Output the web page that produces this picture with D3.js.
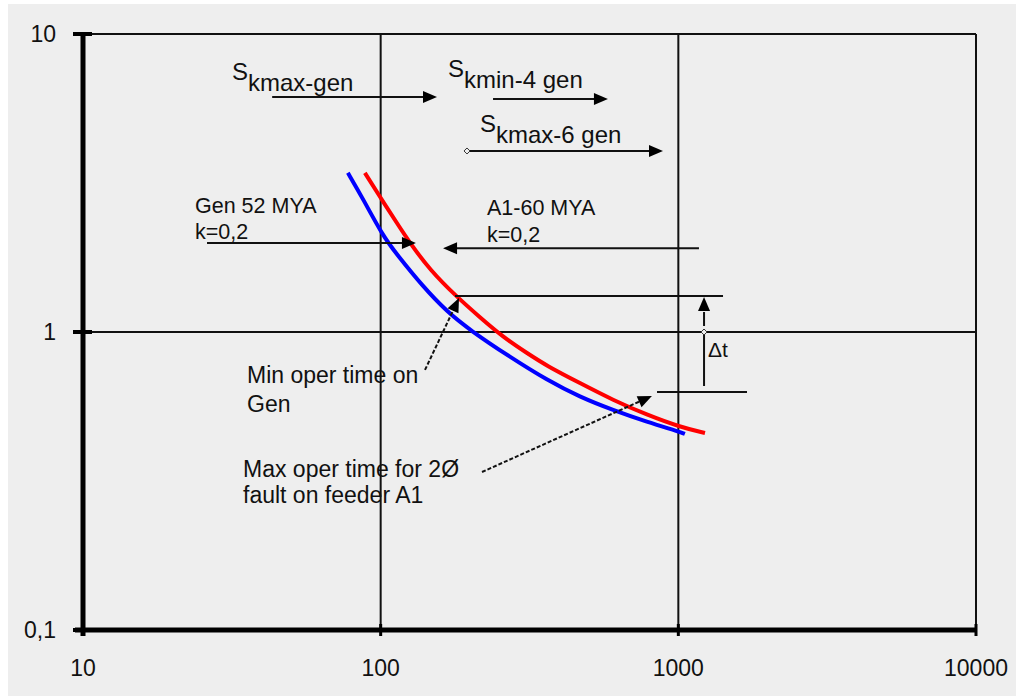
<!DOCTYPE html>
<html><head><meta charset="utf-8">
<script src="https://cdn.jsdelivr.net/npm/d3@7"></script>
<style>html,body{margin:0;padding:0;background:#fff;}svg{display:block;}</style>
</head><body>
<svg id="c" width="1024" height="698"></svg>
<script>
// ---- data ----
const xTicks = [10, 100, 1000, 10000];
const xTickLabels = ["10", "100", "1000", "10000"];
const yTicks = [0.1, 1, 10];
const yTickLabels = ["0,1", "1", "10"];

// Generator relay curve (blue)
const genX = [77.6, 87.2, 101.8, 113.4, 138.7, 167, 199.5, 272, 362, 467, 603, 785, 1013, 1052];
const genY = [3.42, 2.80, 2.10, 1.82, 1.42, 1.17, 1.015, 0.824, 0.69, 0.605, 0.547, 0.499, 0.462, 0.455];
// Feeder A1 relay curve (red)
const feedX = [88.5, 99.5, 113.4, 125.4, 146.4, 180.4, 215.6, 257.5, 310, 362, 467, 603, 785, 1013, 1229];
const feedY = [3.42, 2.84, 2.32, 1.99, 1.615, 1.31, 1.12, 0.962, 0.85, 0.769, 0.674, 0.591, 0.527, 0.48, 0.458];

// arrows in data units: [x1, y1, x2, y2]  (arrowhead at x2,y2)
const arrowSkmaxGen = [43.2, 6.15, 154.6, 6.15];
const arrowSkmin4 = [238.5, 6.05, 580, 6.05];
const arrowSkmax6 = [195, 4.05, 888, 4.05];
const arrowGen = [26.1, 1.99, 131.4, 1.99];
const arrowA1 = [1173, 1.91, 162, 1.91];
const lineMin = [177.8, 1.32, 1413, 1.32];
const lineMax = [848, 0.629, 1701, 0.629];
const arrowDt = [1220, 0.659, 1220, 1.31];
const arrowMinOper = [140.9, 0.746, 183.3, 1.30];
const arrowMaxOper = [219, 0.339, 815, 0.61];

// ---- chart ----
const svg = d3.select("#c");
svg.append("rect").attr("x", 8).attr("y", 4).attr("width", 1008).attr("height", 692).attr("fill", "#eeeeee");

const x = d3.scaleLog().domain([10, 10000]).range([83, 976]);
const y = d3.scaleLog().domain([0.1, 10]).range([630, 34]);
const FONT = "'Liberation Sans', Arial, sans-serif";

// grid lines
const g = svg.append("g");
g.selectAll(".vg").data(xTicks.slice(1)).enter().append("line")
  .attr("x1", d => x(d)).attr("x2", d => x(d)).attr("y1", y(10)).attr("y2", y(0.1))
  .attr("stroke", "#111").attr("stroke-width", 2);
g.selectAll(".hg").data(yTicks.slice(1)).enter().append("line")
  .attr("x1", x(10)).attr("x2", x(10000)).attr("y1", d => y(d)).attr("y2", d => y(d))
  .attr("stroke", "#111").attr("stroke-width", 2);

// axes (thick)
g.append("line").attr("x1", x(10)).attr("x2", x(10)).attr("y1", y(10) - 2).attr("y2", y(0.1) + 6)
  .attr("stroke", "#000").attr("stroke-width", 5);
g.append("line").attr("x1", x(10) - 8).attr("x2", x(10000)).attr("y1", y(0.1)).attr("y2", y(0.1))
  .attr("stroke", "#000").attr("stroke-width", 5);
// y ticks
g.selectAll(".yt").data(yTicks).enter().append("line")
  .attr("x1", x(10) - 10).attr("x2", x(10) + 9).attr("y1", d => y(d)).attr("y2", d => y(d))
  .attr("stroke", "#000").attr("stroke-width", 4);
// x ticks
g.selectAll(".xt").data(xTicks.slice(1)).enter().append("line")
  .attr("x1", d => x(d)).attr("x2", d => x(d)).attr("y1", y(0.1) - 6).attr("y2", y(0.1) + 6)
  .attr("stroke", "#000").attr("stroke-width", 3);

// tick labels
g.selectAll(".yl").data(yTicks).enter().append("text")
  .attr("x", 56).attr("y", d => y(d)).attr("dy", "0.36em")
  .attr("text-anchor", "end").attr("font-family", FONT).attr("font-size", 23).attr("fill", "#111")
  .text((d, i) => yTickLabels[i]);
g.selectAll(".xl").data(xTicks).enter().append("text")
  .attr("x", d => x(d)).attr("y", 676)
  .attr("text-anchor", "middle").attr("font-family", FONT).attr("font-size", 23).attr("fill", "#111")
  .text((d, i) => xTickLabels[i]);

// curves
const line = d3.line().x(d => x(d[0])).y(d => y(d[1])).curve(d3.curveBasis);
svg.append("path").datum(genX.map((v, i) => [v, genY[i]]))
  .attr("d", line).attr("fill", "none").attr("stroke", "#0000ff").attr("stroke-width", 4);
svg.append("path").datum(feedX.map((v, i) => [v, feedY[i]]))
  .attr("d", line).attr("fill", "none").attr("stroke", "#ff0000").attr("stroke-width", 4);

// arrows
function arrow(a, opts = {}) {
  const x1 = x(a[0]), y1 = y(a[1]), x2 = x(a[2]), y2 = y(a[3]);
  const ang = Math.atan2(y2 - y1, x2 - x1);
  const L = opts.head === false ? 0 : 14, Wd = 6;
  const bx = x2 - L * Math.cos(ang), by = y2 - L * Math.sin(ang);
  svg.append("line").attr("x1", x1).attr("y1", y1).attr("x2", bx + (L ? 2 * Math.cos(ang) : 0)).attr("y2", by + (L ? 2 * Math.sin(ang) : 0))
    .attr("stroke", "#111").attr("stroke-width", 2)
    .attr("stroke-dasharray", opts.dash || null);
  if (L) {
    const px = -Math.sin(ang), py = Math.cos(ang);
    svg.append("path")
      .attr("d", `M${x2},${y2}L${bx + px * Wd},${by + py * Wd}L${bx - px * Wd},${by - py * Wd}Z`)
      .attr("fill", "#000");
  }
  if (opts.diamond) {
    svg.append("path").attr("d", `M${x1 - 3},${y1}L${x1},${y1 - 3}L${x1 + 3},${y1}L${x1},${y1 + 3}Z`)
      .attr("fill", "#eee").attr("stroke", "#333").attr("stroke-width", 1);
  }
}
arrow(arrowSkmaxGen);
arrow(arrowSkmin4);
arrow(arrowSkmax6, { diamond: true });
arrow(arrowGen);
arrow(arrowA1);
arrow(lineMin, { head: false });
arrow(lineMax, { head: false });
arrow(arrowDt, { dash: "56,4,14" });
arrow(arrowMinOper, { dash: "4,2" });
arrow(arrowMaxOper, { dash: "4,2" });
// small marker on the Δt arrow where it crosses t = 1
svg.append("path").attr("d", `M${x(1220) - 3},${y(1)}L${x(1220)},${y(1) - 3}L${x(1220) + 3},${y(1)}L${x(1220)},${y(1) + 3}Z`)
  .attr("fill", "#eee").attr("stroke", "#333").attr("stroke-width", 1);

// subscripted S labels (S and subscript as separate texts)
const sLabels = [
  { s: "S", sub: "kmax-gen", x: 232, y: 80, size: 24 },
  { s: "S", sub: "kmin-4 gen", x: 448, y: 77, size: 24 },
  { s: "S", sub: "kmax-6 gen", x: 480, y: 132, size: 24 }
];
sLabels.forEach(l => {
  svg.append("text").attr("x", l.x).attr("y", l.y)
    .attr("font-family", FONT).attr("font-size", l.size).attr("fill", "#111").text(l.s);
  svg.append("text").attr("x", l.x + 16).attr("y", l.y + 11)
    .attr("font-family", FONT).attr("font-size", l.size).attr("fill", "#111").text(l.sub);
});

// other annotation text
const notes = [
  { t: "Gen 52 MYA", x: 195, y: 213, size: 21.5 },
  { t: "k=0,2", x: 195, y: 239, size: 21.5 },
  { t: "A1-60 MYA", x: 487, y: 215, size: 21.5 },
  { t: "k=0,2", x: 487, y: 242, size: 21.5 },
  { t: "Min oper time on", x: 247, y: 383, size: 23 },
  { t: "Gen", x: 247, y: 412, size: 23 },
  { t: "Max oper time for 2Ø", x: 243, y: 477, size: 23 },
  { t: "fault on feeder A1", x: 243, y: 503, size: 23 },
  { t: "Δt", x: 708, y: 357, size: 21 }
];
svg.selectAll(".note").data(notes).enter().append("text")
  .attr("x", d => d.x).attr("y", d => d.y)
  .attr("font-family", FONT).attr("font-size", d => d.size).attr("fill", "#111")
  .text(d => d.t);
</script>
</body></html>
